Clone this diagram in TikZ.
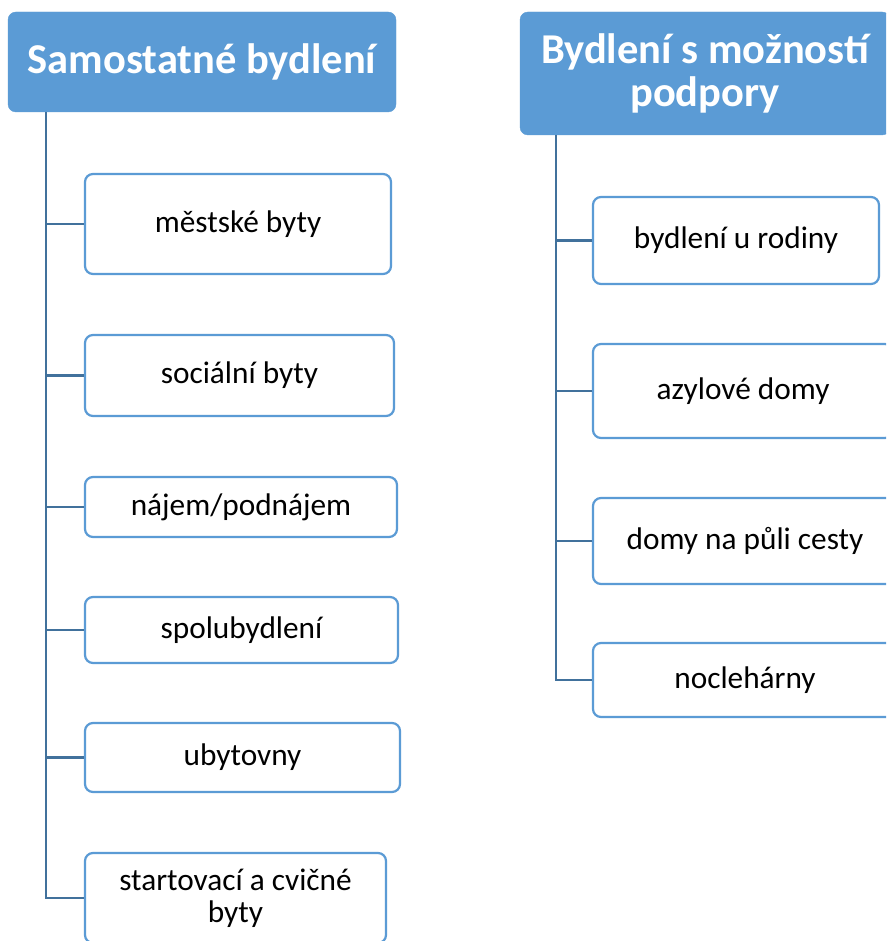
\documentclass[tikz,border=0pt]{standalone}
\usepackage{fontspec}
\setmainfont{Carlito}
\definecolor{hdr}{HTML}{5B9BD5}
\definecolor{bord}{HTML}{5B9BD5}
\definecolor{conn}{HTML}{41719C}
\tikzset{
  hdrbox/.style={fill=hdr, draw=hdr, rounded corners=8pt, text=white, align=center,
    font=\fontsize{42.5}{43}\selectfont\bfseries, inner sep=0pt},
  itembox/.style={draw=bord, line width=2.2pt, fill=white, rounded corners=8pt, align=center,
    font=\fontsize{31.3}{32}\selectfont, inner sep=0pt},
  connline/.style={draw=conn, line width=2.5pt},
}
\begin{document}
\begin{tikzpicture}[x=1pt, y=-1pt]
\useasboundingbox (0,0) rectangle (886,941);
\clip (0,0) rectangle (886,941);
\fill[white] (0,0) rectangle (886,941);
% headers
\node[hdrbox, minimum width=388pt, minimum height=100pt] (h1) at (202,62) {Samostatné bydlení};
\node[hdrbox, minimum width=370pt, minimum height=123pt] (h2) at (705,73.5) {Bydlení s možností\\podpory};
% trunk coordinates
\coordinate (lt) at (46,112);
\coordinate (rt) at (556,135);
% left items
\node[itembox, minimum width=306pt, minimum height=100pt] (l1) at (238,224) {městské byty};
\node[itembox, minimum width=309pt, minimum height=81pt] (l2) at (239.5,375.5) {sociální byty};
\node[itembox, minimum width=312pt, minimum height=60pt] (l3) at (241,507) {nájem/podnájem};
\node[itembox, minimum width=313pt, minimum height=66pt] (l4) at (241.5,630) {spolubydlení};
\node[itembox, minimum width=315pt, minimum height=69pt] (l5) at (242.5,757.5) {ubytovny};
\node[itembox, minimum width=301pt, minimum height=90pt] (l6) at (235.5,898) {startovací a cvičné\\byty};
% right items
\node[itembox, minimum width=286pt, minimum height=87pt] (r1) at (736,240.5) {bydlení u rodiny};
\node[itembox, minimum width=300pt, minimum height=94pt] (r2) at (743,391) {azylové domy};
\node[itembox, minimum width=304pt, minimum height=86pt] (r3) at (745,541) {domy na půli cesty};
\node[itembox, minimum width=304pt, minimum height=74pt] (r4) at (745,680) {noclehárny};
% connectors
\draw[connline] (lt) |- (l6.west);
\foreach \n in {l1,l2,l3,l4,l5} { \draw[connline] (\n.west -| lt) -- (\n.west); }
\draw[connline] (rt) |- (r4.west);
\foreach \n in {r1,r2,r3} { \draw[connline] (\n.west -| rt) -- (\n.west); }
\end{tikzpicture}
\end{document}
